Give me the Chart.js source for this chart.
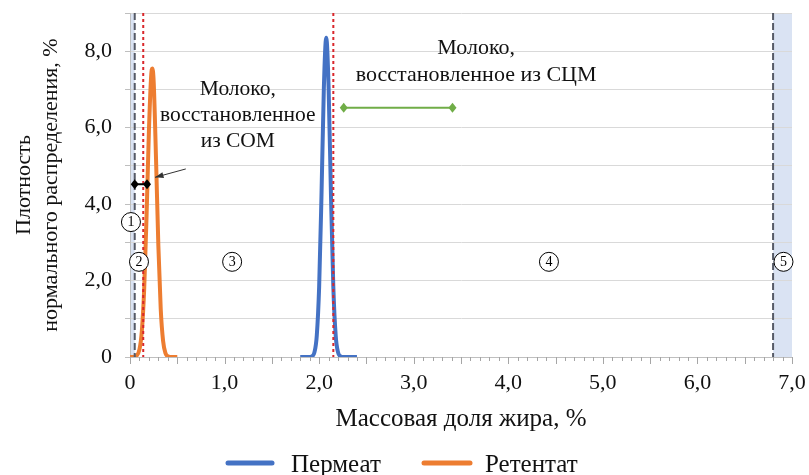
<!DOCTYPE html>
<html><head><meta charset="utf-8">
<script src="https://cdn.jsdelivr.net/npm/chart.js@4"></script>
<style>html,body{margin:0;padding:0;background:#fff}#wrap{width:809px;height:475px}</style>
</head><body><div id="wrap"><canvas id="c" width="809" height="475"></canvas></div>
<script>
// ---- data ----
const permeatX = [1.80, 1.90, 1.925, 1.95, 1.975, 2.00, 2.025, 2.05, 2.075, 2.10, 2.125, 2.15, 2.175, 2.20, 2.225, 2.25, 2.40];
const permeatY = [0.00, 0.00, 0.02, 0.12, 0.56, 1.83, 4.25, 7.05, 8.35, 7.05, 4.25, 1.83, 0.56, 0.12, 0.02, 0.00, 0.00];
const retentatX = [0.00, 0.05, 0.10, 0.125, 0.15, 0.175, 0.20, 0.225, 0.235, 0.25, 0.275, 0.30, 0.325, 0.35, 0.375, 0.40, 0.45, 0.50];
const retentatY = [0.00, 0.01, 0.20, 0.67, 1.78, 3.68, 5.91, 7.40, 7.55, 7.22, 5.20, 2.90, 1.25, 0.42, 0.10, 0.02, 0.00, 0.00];
const seriesNames = ['Пермеат', 'Ретентат'];
const xTickValues = [0, 1, 2, 3, 4, 5, 6, 7];
const yTickLabels = {0: '0', 2: '2,0', 4: '4,0', 6: '6,0', 8: '8,0'};
// zones / reference lines (in data units)
const shadedZones = [[0, 0.05], [6.8, 7.0]];
const dashedLines = [0.05, 6.8];
const dottedLines = [0.14, 2.15];
const zoneLabels = [['1', 0.01, 3.53], ['2', 0.095, 2.49], ['3', 1.08, 2.49], ['4', 4.43, 2.49], ['5', 6.91, 2.49]];
const noteSOM = ['Молоко,', 'восстановленное', 'из СОМ'];
const noteSCM = ['Молоко,', 'восстановленное из СЦМ'];

const toPts = (xs, ys) => xs.map((x, i) => ({x: x, y: ys[i]}));
const SERIF = '"Liberation Serif", "Times New Roman", serif';
const BLUE = '#4472C4', ORANGE = '#ED7D31', GREEN = '#70AD47';

const decor = {
  id: 'decor',
  beforeDraw(chart) {
    const {ctx, chartArea: a, scales: {x, y}} = chart;
    ctx.save();
    ctx.fillStyle = '#dae3f3';
    shadedZones.forEach(([s, e]) => {
      const x0 = x.getPixelForValue(s), x1 = x.getPixelForValue(e);
      ctx.fillRect(x0, a.top, x1 - x0, a.bottom - a.top);
    });
    ctx.restore();
  },
  afterDatasetsDraw(chart) {
    const {ctx, chartArea: a, scales: {x, y}} = chart;
    ctx.save();
    // x tick marks
    ctx.strokeStyle = '#a6a6a6'; ctx.lineWidth = 1;
    for (let i = 0; i <= 70; i++) {
      const px = Math.round(x.getPixelForValue(i / 10)) + 0.5;
      const len = (i % 5 === 0) ? 7 : 4;
      ctx.beginPath(); ctx.moveTo(px, a.bottom); ctx.lineTo(px, a.bottom + len); ctx.stroke();
    }
    // dashed lines
    ctx.strokeStyle = '#555a66'; ctx.lineWidth = 2; ctx.setLineDash([7, 3]);
    dashedLines.forEach(v => {
      const px = x.getPixelForValue(v);
      ctx.beginPath(); ctx.moveTo(px, a.top); ctx.lineTo(px, a.bottom); ctx.stroke();
    });
    // dotted red lines
    ctx.strokeStyle = '#d9262b'; ctx.lineWidth = 2; ctx.setLineDash([3, 3]);
    dottedLines.forEach(v => {
      const px = x.getPixelForValue(v);
      ctx.beginPath(); ctx.moveTo(px, a.top); ctx.lineTo(px, a.bottom); ctx.stroke();
    });
    ctx.setLineDash([]);
    // diamond-ended arrows
    const diamondLine = (x0, x1, yv, color) => {
      const p0 = x.getPixelForValue(x0), p1 = x.getPixelForValue(x1), py = y.getPixelForValue(yv);
      ctx.strokeStyle = color; ctx.fillStyle = color; ctx.lineWidth = 2;
      ctx.beginPath(); ctx.moveTo(p0, py); ctx.lineTo(p1, py); ctx.stroke();
      [p0, p1].forEach(p => {
        ctx.beginPath(); ctx.moveTo(p - 4, py); ctx.lineTo(p, py - 5); ctx.lineTo(p + 4, py); ctx.lineTo(p, py + 5); ctx.closePath(); ctx.fill();
      });
    };
    diamondLine(2.26, 3.41, 6.52, GREEN);
    diamondLine(0.05, 0.18, 4.52, '#000');
    // thin pointer arrow
    const ax0 = x.getPixelForValue(0.59), ay0 = y.getPixelForValue(4.92);
    const ax1 = x.getPixelForValue(0.265), ay1 = y.getPixelForValue(4.70);
    ctx.strokeStyle = '#333'; ctx.fillStyle = '#333'; ctx.lineWidth = 1;
    ctx.beginPath(); ctx.moveTo(ax0, ay0); ctx.lineTo(ax1, ay1); ctx.stroke();
    const ang = Math.atan2(ay1 - ay0, ax1 - ax0);
    ctx.beginPath(); ctx.moveTo(ax1, ay1);
    ctx.lineTo(ax1 - 9 * Math.cos(ang - 0.35), ay1 - 9 * Math.sin(ang - 0.35));
    ctx.lineTo(ax1 - 9 * Math.cos(ang + 0.35), ay1 - 9 * Math.sin(ang + 0.35));
    ctx.closePath(); ctx.fill();
    // zone labels
    ctx.textAlign = 'center'; ctx.textBaseline = 'middle';
    zoneLabels.forEach(([t, xv, yv]) => {
      const px = x.getPixelForValue(xv), py = y.getPixelForValue(yv);
      ctx.beginPath(); ctx.arc(px, py, 9.5, 0, Math.PI * 2);
      ctx.fillStyle = '#fff'; ctx.fill();
      ctx.strokeStyle = '#000'; ctx.lineWidth = 1; ctx.stroke();
      ctx.fillStyle = '#000'; ctx.font = '14px ' + SERIF;
      ctx.fillText(t, px, py + 0.5);
    });
    // notes
    ctx.fillStyle = '#111';
    ctx.font = '21.5px ' + SERIF;
    const nx1 = x.getPixelForValue(1.14), ny1 = y.getPixelForValue(7.01);
    noteSOM.forEach((t, i) => ctx.fillText(t, nx1, ny1 + i * 26));
    ctx.font = '22px ' + SERIF;
    const nx2 = x.getPixelForValue(3.66), ny2 = y.getPixelForValue(8.09);
    noteSCM.forEach((t, i) => ctx.fillText(t, nx2, ny2 + i * 27));
    ctx.restore();
  },
  afterDraw(chart) {
    const {ctx} = chart;
    ctx.save();
    const items = [[228, 272, 291], [424, 470, 485]];
    ctx.font = '25px ' + SERIF; ctx.textBaseline = 'middle'; ctx.textAlign = 'left';
    chart.data.datasets.forEach((ds, i) => {
      const [l0, l1, tx] = items[i];
      ctx.strokeStyle = ds.borderColor; ctx.lineWidth = 5; ctx.lineCap = 'round';
      ctx.beginPath(); ctx.moveTo(l0, 463); ctx.lineTo(l1, 463); ctx.stroke();
      ctx.fillStyle = '#111';
      ctx.fillText(ds.label, tx, 465);
    });
    ctx.restore();
  }
};

new Chart(document.getElementById('c'), {
  type: 'line',
  data: {
    datasets: [
      {label: seriesNames[0], data: toPts(permeatX, permeatY), borderColor: BLUE, backgroundColor: BLUE, borderWidth: 4, pointRadius: 0, cubicInterpolationMode: 'monotone', fill: false},
      {label: seriesNames[1], data: toPts(retentatX, retentatY), borderColor: ORANGE, backgroundColor: ORANGE, borderWidth: 4, pointRadius: 0, cubicInterpolationMode: 'monotone', fill: false}
    ]
  },
  options: {
    responsive: false, animation: false, devicePixelRatio: 1,
    layout: {padding: {left: 0, right: 17, top: 13, bottom: 40}},
    plugins: {legend: {display: false}, tooltip: {enabled: false}},
    scales: {
      x: {
        type: 'linear', min: 0, max: 7,
        afterBuildTicks: s => { s.ticks = xTickValues.map(v => ({value: v})); },
        afterFit: s => { s.height = 78; s.paddingLeft = 0; s.paddingRight = 0; },
        grid: {drawOnChartArea: false, drawTicks: false},
        border: {display: true, color: '#bfbfbf'},
        ticks: {padding: 13, color: '#111', font: {family: SERIF, size: 22}, maxRotation: 0, autoSkip: false,
          callback: v => v === 0 ? '0' : v.toFixed(1).replace('.', ',')},
        title: {display: true, text: 'Массовая доля жира, %', color: '#111', font: {family: SERIF, size: 25}, padding: {top: 0, bottom: 1}}
      },
      y: {
        min: 0, max: 9,
        afterFit: s => { s.width = 130; s.paddingTop = 0; s.paddingBottom = 0; },
        ticks: {stepSize: 1, padding: 13, color: '#111', font: {family: SERIF, size: 22},
          callback: v => yTickLabels[v] !== undefined ? yTickLabels[v] : ''},
        grid: {color: '#d9d9d9', tickLength: 5, tickColor: '#bfbfbf'},
        border: {display: true, color: '#bfbfbf'},
        title: {display: true, text: ['Плотность', 'нормального распределения, %'], color: '#111', font: {family: SERIF, size: 22, lineHeight: 1.23}, padding: {top: 11, bottom: 0}}
      }
    }
  },
  plugins: [decor]
});
</script></body></html>
